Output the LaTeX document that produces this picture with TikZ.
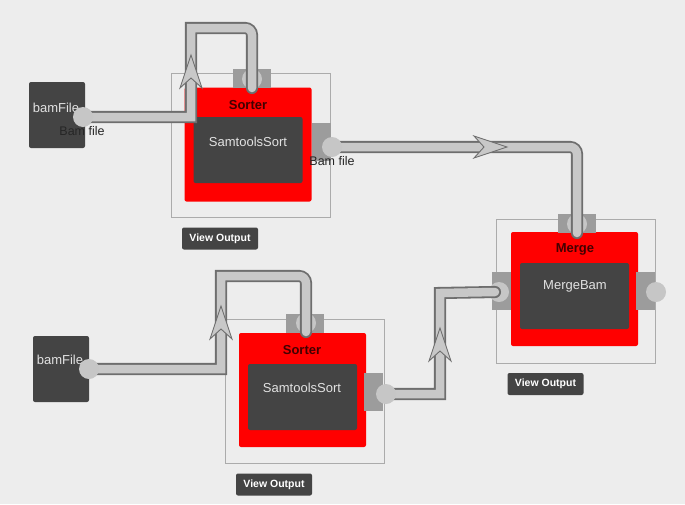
\documentclass[tikz,border=0pt]{standalone}
\usepackage{fontspec}
\setmainfont{Liberation Sans}
\usepackage{xcolor}
\usetikzlibrary{positioning}

\definecolor{bgcol}{HTML}{EDEDED}
\definecolor{framegray}{HTML}{ABABAB}
\definecolor{jobred}{HTML}{FF0000}
\definecolor{boxdark}{HTML}{444444}
\definecolor{titlered}{HTML}{420000}
\definecolor{lighttext}{HTML}{E2E2E2}
\definecolor{portgray}{HTML}{9C9C9C}
\definecolor{pinfill}{HTML}{C6C6C6}
\definecolor{wireedge}{HTML}{6E6E6E}
\definecolor{wirefill}{HTML}{C8C8C8}

\pgfdeclarelayer{wirelayer}
\pgfdeclarelayer{front}
\pgfsetlayers{main,wirelayer,front}

\newcommand{\wirechevron}[2]{%
  \draw[chevron, shift={#1}, rotate=#2] (0,0) -- (-33,11) -- (-23,0) -- (-33,-11) -- cycle;}

\begin{document}
\begin{tikzpicture}[
  x=1pt, y=-1pt,
  every node/.style={inner sep=0pt},
  frame/.style={draw=framegray, line width=0.7pt, minimum width=159pt, minimum height=144pt},
  jobbox/.style={fill=jobred, rounded corners=2pt, minimum width=127pt, minimum height=114pt},
  toolbox/.style={fill=boxdark, rounded corners=2pt, minimum width=109pt, minimum height=66pt},
  filebox/.style={fill=boxdark, rounded corners=2pt, minimum width=56pt, minimum height=66pt},
  title/.style={font=\bfseries\fontsize{13}{15}\selectfont, text=titlered},
  tooltext/.style={font=\fontsize{13}{15}\selectfont, text=lighttext},
  portlabel/.style={font=\fontsize{12.5}{15}\selectfont, text=black!85},
  viewbtn/.style={fill=boxdark, rounded corners=2pt, text=white,
    font=\bfseries\fontsize{10.5}{12}\selectfont, minimum width=76pt, minimum height=22pt},
  porth/.style={fill=portgray, minimum width=38pt, minimum height=19pt},
  portv/.style={fill=portgray, minimum width=19pt, minimum height=38pt},
  pin/.style={circle, fill=pinfill, minimum size=20pt},
  wire/.style={draw=wireedge, line width=1.8pt, double=wirefill, double distance=8.5pt,
    line cap=round},
  chevron/.style={fill=wirefill, draw=wireedge, line width=0.9pt}
]
\fill[bgcol] (0,0) rectangle (685,504);
\useasboundingbox (0,0) rectangle (685,504);

% input files
\node[filebox] (bf1) at (57,115) {};
\node[tooltext] (bf1t) at (56,108) {bamFile};
\node[filebox] (bf2) at (61,369) {};
\node[tooltext] (bf2t) at (60,360) {bamFile};

% first Sorter
\node[frame] (s1frame) at (250.5,145) {};
\node[jobbox] (s1box) at (248,144.5) {};
\node[title] (s1title) at (248,105) {Sorter};
\node[toolbox] (s1tool) at (248,150) {};
\node[tooltext] (s1text) at (248,142) {SamtoolsSort};
\node[porth] (s1insq) at (251.5,78) {};
\node[pin] (s1in) at (252,79) {};
\node[portv] (s1outsq) at (321,141.5) {};
\node[viewbtn] (s1view) at (220,238.5) {View Output};

% second Sorter
\node[frame] (s2frame) at (304.5,391) {};
\node[jobbox] (s2box) at (302.5,390) {};
\node[title] (s2title) at (302,350) {Sorter};
\node[toolbox] (s2tool) at (302.5,397) {};
\node[tooltext] (s2text) at (302,388) {SamtoolsSort};
\node[porth] (s2insq) at (305,323.5) {};
\node[pin] (s2in) at (306,323) {};
\node[portv] (s2outsq) at (373.5,392) {};
\node[viewbtn] (s2view) at (274,484.5) {View Output};

% Merge
\node[frame] (mframe) at (576,291) {};
\node[jobbox] (mbox) at (574.5,289) {};
\node[title] (mtitle) at (575,249) {Merge};
\node[toolbox] (mtool) at (574.5,296) {};
\node[tooltext] (mtext) at (575,286) {MergeBam};
\node[porth] (min1sq) at (577,223) {};
\node[pin] (min1) at (577,224) {};
\node[portv] (min2sq) at (501.5,291) {};
\node[pin] (min2) at (499,292) {};
\node[portv] (moutsq) at (645.5,290.5) {};
\node[pin] (mout) at (656,292) {};
\node[viewbtn] (mview) at (545.5,384) {View Output};

% output pins sit above the wires
\begin{pgfonlayer}{front}
\node[pin] (bf1p) at (83,117) {};
\node[pin] (bf2p) at (89,369) {};
\node[pin] (s1out) at (332,147) {};
\node[pin] (s2out) at (386,394) {};
\node[portlabel] (bf1l) at (82,131) {Bam file};
\node[portlabel] (s1l) at (332,161) {Bam file};
\end{pgfonlayer}

% bends
\coordinate (w1) at (191,28);
\coordinate (w2) at (221,276);
\coordinate (w4) at (440,293);

% connectors
\begin{pgfonlayer}{wirelayer}
\draw[wire] (bf1p.center) -| (w1) -- ([xshift=-8pt]w1 -| s1in)
  [rounded corners=7pt] -- (w1 -| s1in) -- ([yshift=-9pt]s1in.center);
\draw[wire] (bf2p.center) -| (w2) -- ([xshift=-8pt]w2 -| s2in)
  [rounded corners=7pt] -- (w2 -| s2in) -- ([yshift=-9pt]s2in.center);
\draw[wire, rounded corners=7pt] (s1out.center) -| ([yshift=-9pt]min1.center);
\draw[wire] (s2out.center) -| (w4) -- ([xshift=-4pt]min2.center);

\wirechevron{(191,55)}{90}
\wirechevron{(221,306)}{90}
\wirechevron{(507,147)}{0}
\wirechevron{(440,328)}{90}
\end{pgfonlayer}
\end{tikzpicture}
\end{document}
